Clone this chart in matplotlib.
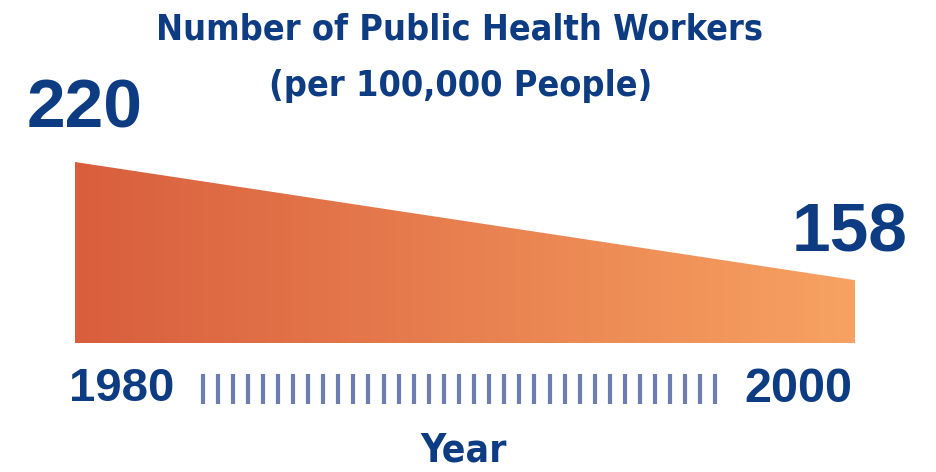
import numpy as np
import matplotlib.pyplot as plt
from matplotlib.colors import LinearSegmentedColormap

# data
years = [1980, 2000]
workers = [220, 158]
year_labels = ["1980", "2000"]
n_ticks = 35

navy = "#0d3c82"
tick_color = "#6d7db2"
cmap = LinearSegmentedColormap.from_list("warm", ["#d95e3d", "#f7a262"])

fig = plt.figure(figsize=(9.36, 4.72), dpi=100)
W, H = 936, 472

def fx(px):
    return px / W

def fy(py):
    return 1 - py / H

# area axes: x in years, y baseline ~125
ax = fig.add_axes([fx(75), fy(343), fx(855) - fx(75), fy(162) - fy(343)])
base = 125
poly = ax.fill_between(years, base, workers, color="none", lw=0)
grad = np.linspace(0, 1, 256).reshape(1, -1)
img = ax.imshow(grad, cmap=cmap, aspect="auto",
                extent=[years[0], years[-1], base, max(workers)])
path = poly.get_paths()[0]
img.set_clip_path(path, transform=ax.transData)
ax.set_xlim(years[0], years[-1])
ax.set_ylim(base, max(workers))
ax.axis("off")

cond = dict(family="DejaVu Sans", stretch="condensed", fontweight="bold", color=navy)
wide = dict(family="Liberation Sans", fontweight="bold", color=navy)

# value labels
fig.text(fx(85), fy(110), str(workers[0]), ha="center", va="center", fontsize=50, **wide)
fig.text(fx(850), fy(234), str(workers[1]), ha="center", va="center", fontsize=50, **wide)

# title
fig.text(fx(460), fy(30), "Number of Public Health Workers", ha="center", va="center",
         fontsize=25.8, **cond)
fig.text(fx(461), fy(86), "(per 100,000 People)", ha="center", va="center",
         fontsize=25.8, **cond)

# year axis
fig.text(fx(122), fy(389), year_labels[0], ha="center", va="center", fontsize=34, **wide)
fig.text(fx(798), fy(389), year_labels[1], ha="center", va="center", fontsize=35, **wide)

tax = fig.add_axes([fx(195), fy(404), fx(723) - fx(195), fy(374) - fy(404)])
tax.vlines(np.arange(n_ticks), 0, 1, color=tick_color, lw=3.0)
tax.set_xlim(-0.5, n_ticks - 0.5)
tax.set_ylim(0, 1)
tax.axis("off")

fig.text(fx(464), fy(450), "Year", ha="center", va="center", fontsize=28, **cond)

fig.savefig("out.png", dpi=100, facecolor="white")
